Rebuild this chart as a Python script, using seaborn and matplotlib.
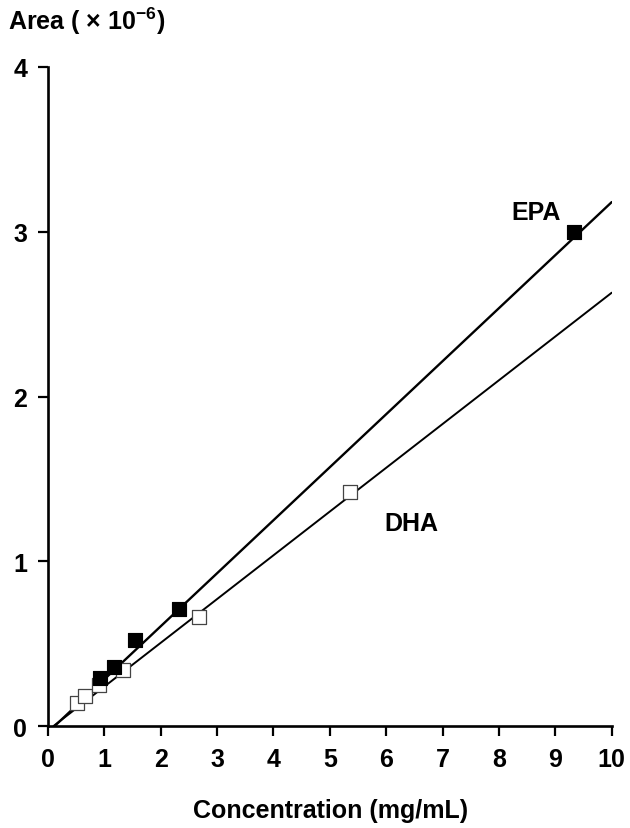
import numpy as np
import pandas as pd
import seaborn as sns
import matplotlib.pyplot as plt

# calibration data
epa_conc = [0.92, 1.17, 1.55, 2.32, 9.33]
epa_area = [0.29, 0.36, 0.52, 0.71, 3.00]
dha_conc = [0.52, 0.66, 0.90, 1.33, 2.68, 5.36]
dha_area = [0.14, 0.18, 0.25, 0.34, 0.66, 1.42]

# fitted calibration lines (end points)
epa_fit_x = [0.12, 10.0]
epa_fit_y = [0.0, 3.18]
dha_fit_x = [0.10, 10.0]
dha_fit_y = [0.0, 2.63]

x_ticks = list(range(0, 11))
y_ticks = list(range(0, 5))

sns.set_style('ticks')
plt.rcParams['font.family'] = ['Liberation Sans', 'DejaVu Sans']
plt.rcParams['font.weight'] = 'bold'
plt.rcParams['mathtext.fontset'] = 'custom'
plt.rcParams['mathtext.rm'] = 'Liberation Sans:bold'
plt.rcParams['mathtext.default'] = 'rm'
for k in ['text.color', 'axes.labelcolor', 'xtick.color', 'ytick.color', 'axes.edgecolor']:
    plt.rcParams[k] = 'black'

FS = 18

epa = pd.DataFrame({'conc': epa_conc, 'area': epa_area})
dha = pd.DataFrame({'conc': dha_conc, 'area': dha_area})
epa_fit = pd.DataFrame({'conc': epa_fit_x, 'area': epa_fit_y})
dha_fit = pd.DataFrame({'conc': dha_fit_x, 'area': dha_fit_y})

fig = plt.figure(figsize=(6.3, 8.29), dpi=100)
ax = fig.add_axes([0.076, 0.123, 0.895, 0.795])

sns.lineplot(data=epa_fit, x='conc', y='area', color='black', lw=1.7, ax=ax)
sns.lineplot(data=dha_fit, x='conc', y='area', color='black', lw=1.4, ax=ax)
sns.scatterplot(data=dha, x='conc', y='area', marker='s', s=95,
                facecolor='white', edgecolor='#444444', linewidth=0.9, ax=ax, zorder=3)
sns.scatterplot(data=epa, x='conc', y='area', marker='s', s=105,
                color='black', edgecolor='black', ax=ax, zorder=4)

ax.set_xlim(0, 10)
ax.set_ylim(0, 4)
ax.set_xticks(x_ticks)
ax.set_yticks(y_ticks)
ax.tick_params(axis='both', labelsize=FS, width=1.6, length=7, direction='out', pad=8)
for lab in ax.get_xticklabels() + ax.get_yticklabels():
    lab.set_fontweight('bold')
for s in ['top', 'right']:
    ax.spines[s].set_visible(False)
for s in ['left', 'bottom']:
    ax.spines[s].set_linewidth(1.9)
    ax.spines[s].set_clip_on(False)

ax.set_xlabel('')
ax.set_ylabel('')
fig.text(0.525, 0.022, 'Concentration (mg/mL)', ha='center', va='center',
         fontsize=FS, fontweight='bold')
fig.text(0.012, 0.974, r'Area ( $\times$ 10$^{-6}$)', ha='left', va='center',
         fontsize=FS, fontweight='bold')

ax.text(8.65, 3.12, 'EPA', ha='center', va='center', fontsize=FS, fontweight='bold')
ax.text(6.45, 1.23, 'DHA', ha='center', va='center', fontsize=FS, fontweight='bold')

fig.savefig('out.png', dpi=100)
